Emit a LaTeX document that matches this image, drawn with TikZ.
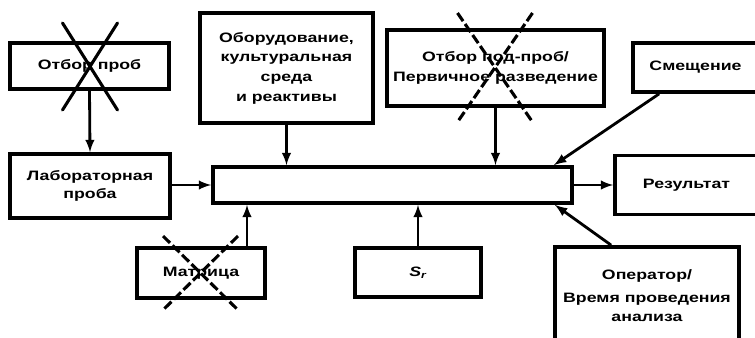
\documentclass[tikz,border=0pt]{standalone}
\usepackage{fontspec}
\setmainfont{Liberation Sans}[FakeStretch=1.3]
\usepackage{tikz}
\usetikzlibrary{shapes,arrows,positioning,calc}

\begin{document}
\begin{tikzpicture}[
        x=0.025cm, y=-0.025cm,
        box/.style={draw, line width=2.6pt, rectangle, align=center, inner sep=0pt,
                    font=\fontsize{9.7}{14}\selectfont\bfseries},
        link/.style={line width=2pt, -latex},
        xsolid/.style={line width=2.2pt, line cap=round},
        xdash/.style={line width=2.2pt, dash pattern=on 7pt off 2.5pt}
    ]

                \useasboundingbox (0,0) rectangle (755,337);
                \clip (0,0) rectangle (755,337);

                % boxes
                \node[box, minimum width=3.975cm, minimum height=1.15cm] (otbor) at (89.5,66) {Отбор проб};
                \node[box, minimum width=4.0cm, minimum height=1.6cm] (lab) at (90,186) {Лабораторная\\[-1pt]проба};
                \node[box, minimum width=4.325cm, minimum height=2.75cm] (equip) at (286.5,68)
                    {Оборудование,\\культуральная\\среда\\и реактивы};
                \node[box, minimum width=8.975cm, minimum height=0.9cm] (main) at (392.5,185) {};
                \node[box, minimum width=5.425cm, minimum height=1.9cm] (subs) at (495.5,68)
                    {Отбор под-проб/\\Первичное разведение};
                \node[box, minimum width=3.925cm, minimum height=1.225cm] (shift) at (711.5,67.5) {Смещение\hspace*{0.8cm}};
                \node[box, minimum width=4.375cm, minimum height=1.475cm] (result) at (702.5,185) {Результат\hspace*{0.8cm}};
                \node[box, minimum width=3.2cm, minimum height=1.25cm] (matrix) at (201,273) {Матрица};
                \node[box, minimum width=3.15cm, minimum height=1.225cm] (sr) at (418,272.5)
                    {\itshape S\textsubscript{r}};
                \node[box, minimum width=4.6cm, minimum height=2.45cm] (oper) at (647,296)
                    {Оператор/\\[2pt]Время проведения\\анализа};

                % struck out boxes
                \draw[xsolid] ([shift={(-27,-43)}]otbor.center) -- ([shift={(28,44)}]otbor.center);
                \draw[xsolid] ([shift={(28,-43)}]otbor.center) -- ([shift={(-27,44)}]otbor.center);
                \draw[xdash] ([shift={(-38,-55)}]subs.center) -- ([shift={(37,54)}]subs.center);
                \draw[xdash] ([shift={(37,-55)}]subs.center) -- ([shift={(-38,54)}]subs.center);
                \draw[xdash] ([shift={(-38,-37)}]matrix.center) -- ([shift={(37,37)}]matrix.center);
                \draw[xdash] ([shift={(37,-37)}]matrix.center) -- ([shift={(-38,37)}]matrix.center);

                % arrows
                \draw[link] (otbor.south) -- (lab.north);
                \draw[link] (equip.south) -- (equip.south |- main.north);
                \draw[link] (subs.south) -- (subs.south |- main.north);
                \draw[link] ([shift={(28,0)}]shift.south west) -- ([shift={(-20,0)}]main.north east);
                \draw[link] (lab.east |- main.west) -- (main.west);
                \draw[link] (main.east) -- (result.west);
                \draw[link] ([shift={(46,0)}]matrix.north) -- ([shift={(46,0)}]matrix.north |- main.south);
                \draw[link] (sr.north) -- (sr.north |- main.south);
                \draw[link] ([shift={(58,0)}]oper.north west) -- ([shift={(-19,0)}]main.south east);

            \end{tikzpicture}
\end{document}
